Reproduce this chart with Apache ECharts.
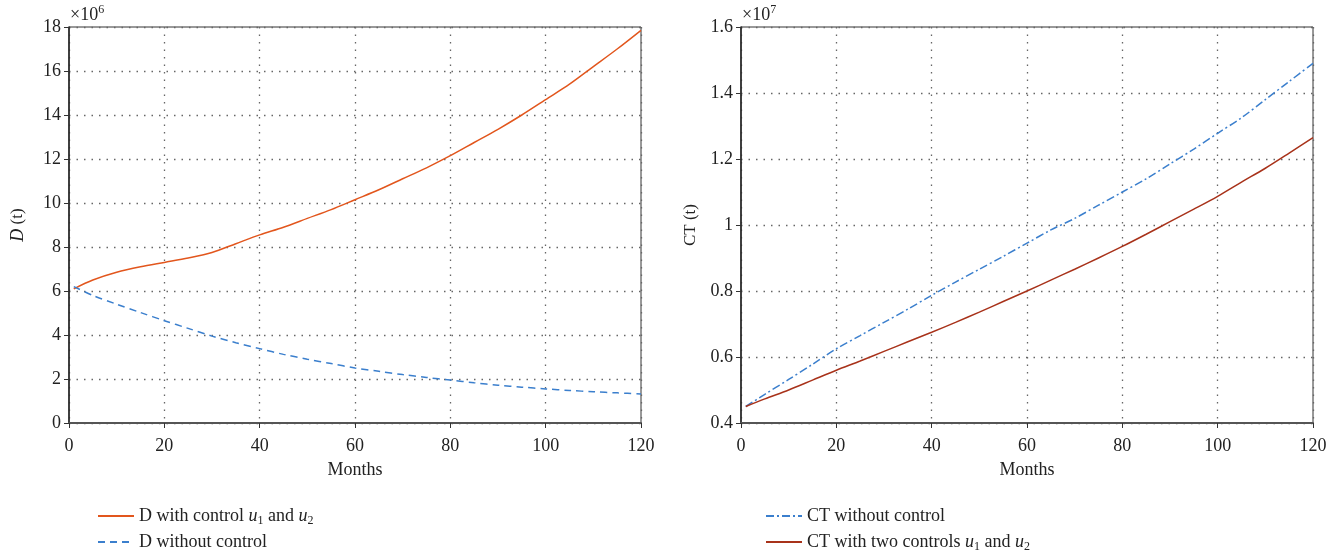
<!DOCTYPE html>
<html>
<head>
<meta charset="utf-8">
<script src="https://cdn.jsdelivr.net/npm/echarts@6/dist/echarts.min.js"></script>
<style>
  html, body { margin: 0; padding: 0; background: #fff; }
  #chart { width: 1338px; height: 554px; }
</style>
</head>
<body>
<div id="chart"></div>
<script>
// months sampled along the curves
const months = [1, 5, 10, 15, 20, 25, 30, 35, 40, 45, 50, 55, 60, 65, 70, 75, 80, 85, 90, 95, 100, 105, 110, 115, 120];

// D (t), in units of 10^6
const dWithControl = [6.1, 6.5, 6.85, 7.1, 7.3, 7.5, 7.75, 8.15, 8.55, 8.9, 9.3, 9.7, 10.15, 10.6, 11.1, 11.6, 12.15, 12.75, 13.35, 14.0, 14.7, 15.4, 16.2, 17.0, 17.85];
const dWithoutControl = [6.2, 5.8, 5.4, 5.02, 4.65, 4.3, 3.95, 3.65, 3.38, 3.12, 2.9, 2.7, 2.5, 2.35, 2.2, 2.07, 1.95, 1.83, 1.72, 1.63, 1.55, 1.48, 1.42, 1.37, 1.32];

// CT (t), in units of 10^7
const ctWithoutControl = [0.45, 0.487, 0.532, 0.578, 0.625, 0.665, 0.705, 0.745, 0.787, 0.827, 0.866, 0.905, 0.945, 0.985, 1.02, 1.06, 1.1, 1.14, 1.185, 1.23, 1.278, 1.325, 1.38, 1.435, 1.49];
const ctWithControls = [0.45, 0.473, 0.5, 0.53, 0.56, 0.588, 0.617, 0.646, 0.675, 0.705, 0.736, 0.768, 0.8, 0.833, 0.866, 0.9, 0.935, 0.972, 1.01, 1.048, 1.087, 1.13, 1.172, 1.218, 1.265];

const FONT = "Liberation Serif";
const pairs = (ys) => months.map((m, i) => [m, ys[i]]);

const legendRich = {
  i: { fontFamily: FONT, fontStyle: "italic", fontSize: 18, color: "#222" },
  sub: { fontFamily: FONT, fontSize: 12, color: "#222", padding: [10, 0, 0, 0] },
};

const xAxisBase = (gridIndex) => ({
  type: "value",
  gridIndex: gridIndex,
  min: 0,
  max: 120,
  interval: 20,
  name: "Months",
  nameLocation: "middle",
  nameGap: 38,
  nameTextStyle: { fontFamily: FONT, fontSize: 18, color: "#222" },
  axisLine: { onZero: false, lineStyle: { color: "#555", width: 2 } },
  axisTick: { show: true, length: 5, lineStyle: { color: "#333" } },
  axisLabel: { fontFamily: FONT, fontSize: 18, color: "#222", margin: 14 },
  splitLine: { show: true, lineStyle: { color: "#666", type: [1.5, 6], width: 1.3 } },
});

const yAxisBase = (gridIndex, min, max, interval, name) => ({
  type: "value",
  gridIndex: gridIndex,
  min: min,
  max: max,
  interval: interval,
  name: name,
  nameLocation: "middle",
  nameGap: 42,
  nameTextStyle: { fontFamily: FONT, fontSize: 17, color: "#222", rich: legendRich },
  axisLine: { show: true, lineStyle: { color: "#222", width: 1.5 } },
  axisTick: { show: true, length: 5, lineStyle: { color: "#333" } },
  axisLabel: { fontFamily: FONT, fontSize: 18, color: "#222", margin: 8 },
  splitLine: { show: true, lineStyle: { color: "#666", type: [1.5, 6], width: 1.3 } },
});

const legendOne = (name, left, top, label) => ({
  left: left,
  top: top,
  itemWidth: 36,
  itemHeight: 14,
  itemGap: 10,
  data: [name],
  itemStyle: { opacity: 0 },
  formatter: () => label,
  textStyle: { fontFamily: FONT, fontSize: 18, color: "#222", rich: legendRich },
});

const chart = echarts.init(document.getElementById("chart"), null, { renderer: "canvas" });

const option = {
  backgroundColor: "#fff",
  animation: false,
  grid: [
    { left: 69, top: 27, width: 572, height: 396, show: true, borderColor: "#333", borderWidth: 1 },
    { left: 741, top: 27, width: 572, height: 396, show: true, borderColor: "#333", borderWidth: 1 },
  ],
  xAxis: [xAxisBase(0), xAxisBase(1)],
  yAxis: [
    yAxisBase(0, 0, 18, 2, "{i|D} (t)"),
    yAxisBase(1, 0.4, 1.6, 0.2, "CT (t)"),
  ],
  graphic: [
    {
      type: "text",
      left: 70,
      top: 4,
      style: {
        text: "×10{s|6}",
        font: "18px " + FONT,
        fill: "#222",
        rich: { s: { fontFamily: FONT, fontSize: 12, padding: [0, 0, 10, 0], fill: "#222" } },
      },
    },
    {
      type: "text",
      left: 742,
      top: 4,
      style: {
        text: "×10{s|7}",
        font: "18px " + FONT,
        fill: "#222",
        rich: { s: { fontFamily: FONT, fontSize: 12, padding: [0, 0, 10, 0], fill: "#222" } },
      },
    },
  ],
  legend: [
    legendOne("dWith", 92, 502, "D with control {i|u}{sub|1} and {i|u}{sub|2}"),
    legendOne("dWithout", 92, 528, "D without control"),
    legendOne("ctWithout", 760, 502, "CT without control"),
    legendOne("ctWith", 760, 528, "CT with two controls {i|u}{sub|1} and {i|u}{sub|2}"),
  ],
  series: [
    {
      name: "dWith",
      type: "line",
      xAxisIndex: 0,
      yAxisIndex: 0,
      data: pairs(dWithControl),
      smooth: 0.3,
      symbol: "none",
      color: "#e2561d",
      lineStyle: { color: "#e2561d", width: 1.5 },
    },
    {
      name: "dWithout",
      type: "line",
      xAxisIndex: 0,
      yAxisIndex: 0,
      data: pairs(dWithoutControl),
      smooth: 0.3,
      symbol: "none",
      color: "#3b7fcd",
      lineStyle: { color: "#3b7fcd", width: 1.5, type: [7, 5] },
    },
    {
      name: "ctWithout",
      type: "line",
      xAxisIndex: 1,
      yAxisIndex: 1,
      data: pairs(ctWithoutControl),
      smooth: 0.3,
      symbol: "none",
      color: "#3b7fcd",
      lineStyle: { color: "#3b7fcd", width: 1.5, type: [8, 3, 2, 3] },
    },
    {
      name: "ctWith",
      type: "line",
      xAxisIndex: 1,
      yAxisIndex: 1,
      data: pairs(ctWithControls),
      smooth: 0.3,
      symbol: "none",
      color: "#a8321a",
      lineStyle: { color: "#a8321a", width: 1.5 },
    },
  ],
};

chart.setOption(option);
</script>
</body>
</html>
